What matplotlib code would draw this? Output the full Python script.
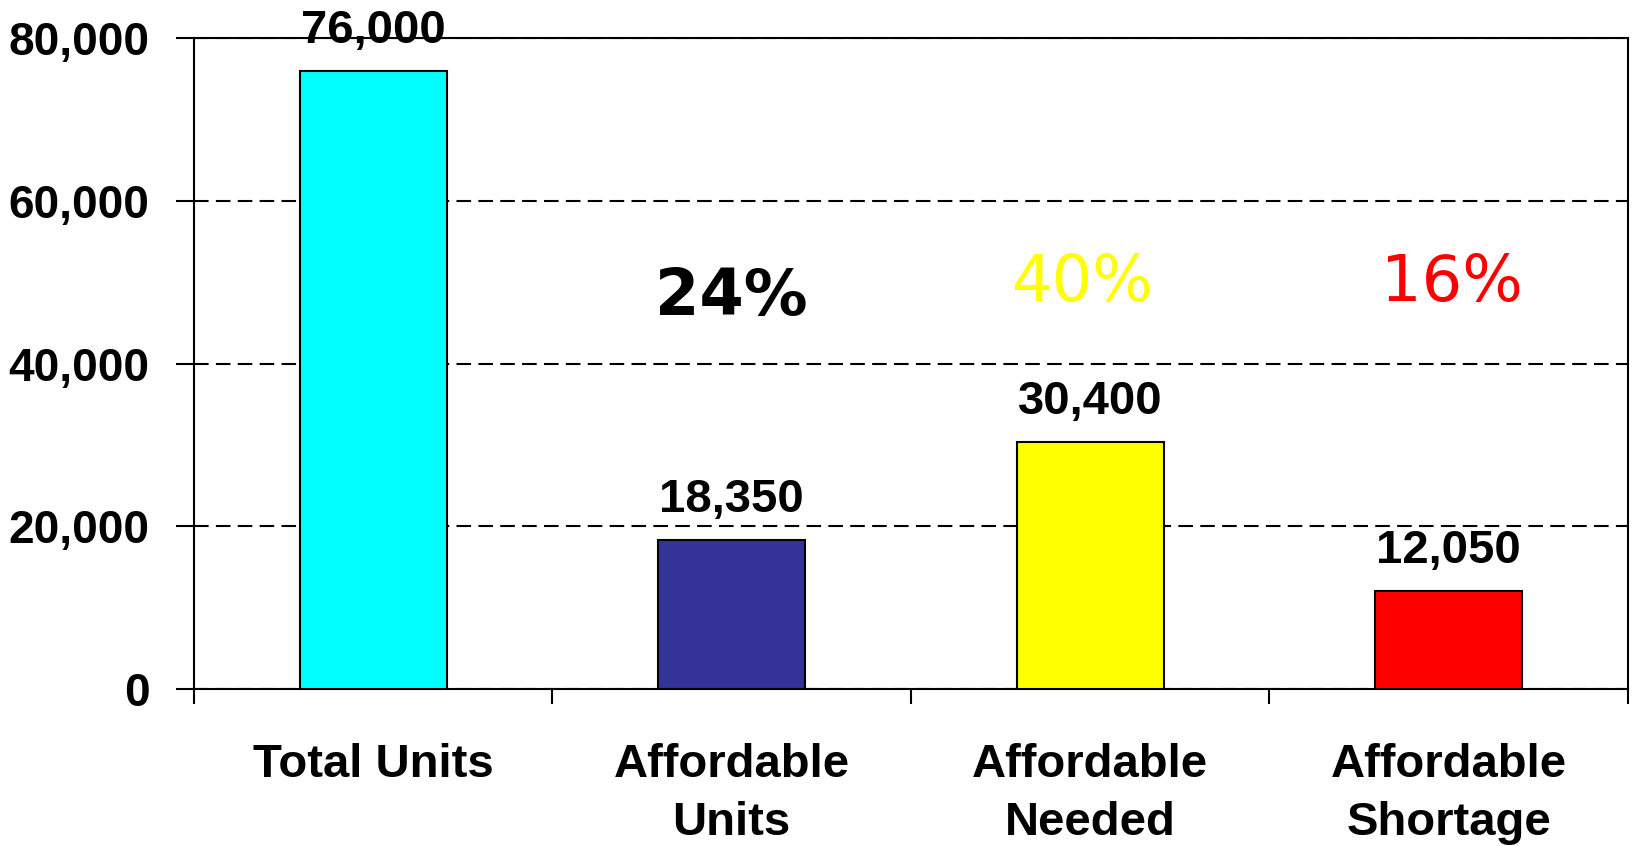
import numpy as np
import matplotlib.pyplot as plt
from matplotlib.ticker import FuncFormatter, FixedLocator

# housing units summary
categories = ["Total Units", "Affordable\nUnits", "Affordable\nNeeded", "Affordable\nShortage"]
values = [76000, 18350, 30400, 12050]
colors = ["#00FFFF", "#333399", "#FFFF00", "#FF0000"]

# share of total units shown above the smaller bars
pct_labels = ["24%", "40%", "16%"]
pct_x = [1.0, 1.98, 3.01]
pct_y = [48200, 49900, 49900]
pct_colors = ["black", "#FFFF00", "#FF0000"]
pct_weights = ["bold", "normal", "normal"]

plt.rcParams["font.family"] = ["Liberation Sans", "DejaVu Sans"]

fig = plt.figure(figsize=(16.34, 8.46), dpi=100)
ax = fig.add_axes([0.1187, 0.1856, 0.8776, 0.769])

x = np.arange(len(categories))
ax.bar(x, values, width=0.41, color=colors, edgecolor="black", linewidth=1.5, zorder=3)

for xi, v in zip(x, values):
    ax.annotate(f"{v:,}", (xi, v), xytext=(0, 20), textcoords="offset points",
                ha="center", va="baseline", fontsize=34, fontweight="bold")

for t, px, py, c, w in zip(pct_labels, pct_x, pct_y, pct_colors, pct_weights):
    ax.text(px, py, t, ha="center", va="center", fontsize=46, color=c,
            fontweight=w, family="DejaVu Sans")

ax.set_xlim(-0.5, 3.5)
ax.set_ylim(0, 80000)
ax.set_yticks([0, 20000, 40000, 60000, 80000])
ax.yaxis.set_major_formatter(FuncFormatter(lambda v, p: f"{int(v):,}"))
ax.set_xticks(x)
ax.set_xticklabels(categories, fontsize=34, fontweight="bold", linespacing=1.4)
ax.xaxis.set_minor_locator(FixedLocator([-0.5, 0.5, 1.5, 2.5, 3.5]))
ax.tick_params(axis="x", which="major", length=0, pad=39)
ax.tick_params(axis="x", which="minor", length=11, width=1.5, direction="out")
ax.tick_params(axis="y", length=13, width=1.5, pad=19, labelsize=33)
for lab in ax.get_yticklabels():
    lab.set_fontweight("bold")

ax.yaxis.grid(True, linestyle=(0, (7, 3.5)), color="black", linewidth=1.5, zorder=0)
for s in ax.spines.values():
    s.set_linewidth(1.5)

fig.savefig("out.png", dpi=100)
